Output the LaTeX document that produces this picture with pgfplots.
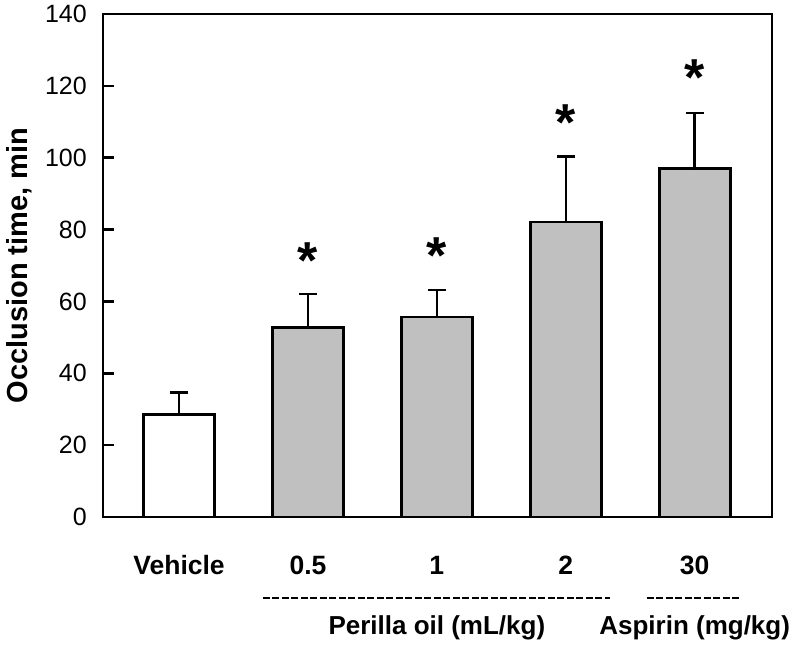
\documentclass[border=0pt]{standalone}
\usepackage{fontspec}
\setmainfont{Liberation Sans}
\usepackage{pgfplots}
\pgfplotsset{compat=1.18}
\definecolor{bargray}{HTML}{C0C0C0}
\begin{document}
\begin{tikzpicture}
\path[use as bounding box] (-103bp,-128bp) rectangle (689bp,517bp);
\begin{axis}[
  at={(0,0)}, anchor=south west,
  scale only axis, width=669bp, height=503bp,
  xmin=-0.59, xmax=4.6, ymin=0, ymax=140,
  ytick={0,20,...,140},
  xtick={0,1,2,3,4},
  xticklabels={Vehicle,0.5,1,2,30},
  x tick style={draw=none},
  xticklabel style={font=\fontsize{26.5bp}{30bp}\selectfont\bfseries, anchor=base, yshift=-57bp},
  axis line style={line width=2.7bp},
  y tick style={line width=2.5bp, black},
  major tick length=11bp,
  ytick pos=left, tick align=inside,
  yticklabel={\pgfmathprintnumber{\tick}},
  yticklabel style={font=\fontsize{25bp}{28bp}\selectfont, anchor=east, inner sep=0pt, xshift=-16bp},
  /pgf/number format/assume math mode=true,
  ylabel={Occlusion time, min},
  ylabel style={font=\fontsize{29bp}{34bp}\selectfont\bfseries, at={(axis description cs:-0.125,0.5)}, anchor=center},
  clip=false,
]
\addplot[ybar, bar width=71bp, bar shift=0pt, fill=white, draw=black, line width=2.7bp,
  error bars/.cd, y dir=plus, y explicit,
  error bar style={line width=2.5bp},
  error mark options={rotate=90, mark size=9bp, line width=2.5bp}]
  coordinates {(0,28.6) +- (0,6.1)};
\addplot[ybar, bar width=71bp, bar shift=0pt, fill=bargray, draw=black, line width=2.7bp,
  error bars/.cd, y dir=plus, y explicit,
  error bar style={line width=2.5bp},
  error mark options={rotate=90, mark size=9bp, line width=2.5bp}]
  coordinates {(1,52.8) +- (0,9.2) (2,55.7) +- (0,7.5) (3,82.1) +- (0,18.2) (4,97.0) +- (0,15.5)};
\addplot[only marks, mark=none, nodes near coords={\textbf{*}},
  nodes near coords style={anchor=center, font=\fontsize{52bp}{56bp}\selectfont, yshift=-8bp}]
  coordinates {(1,73.6) (2,75.1) (3,111.9) (4,124.5)};
\node[anchor=base, font=\fontsize{26bp}{30bp}\selectfont\bfseries, yshift=-117bp] at (axis cs:2,0) {Perilla oil (mL/kg)};
\node[anchor=base, font=\fontsize{26bp}{30bp}\selectfont\bfseries, yshift=-117bp] at (axis cs:4,0) {Aspirin (mg/kg)};
\draw[line width=2.7bp, dash pattern=on 7bp off 2.5bp] ([yshift=-81bp]axis cs:0.651,0) -- ([yshift=-81bp]axis cs:3.341,0);
\draw[line width=2.7bp, dash pattern=on 7bp off 2.5bp] ([yshift=-81bp]axis cs:3.628,0) -- ([yshift=-81bp]axis cs:4.349,0);
\end{axis}
\end{tikzpicture}
\end{document}
